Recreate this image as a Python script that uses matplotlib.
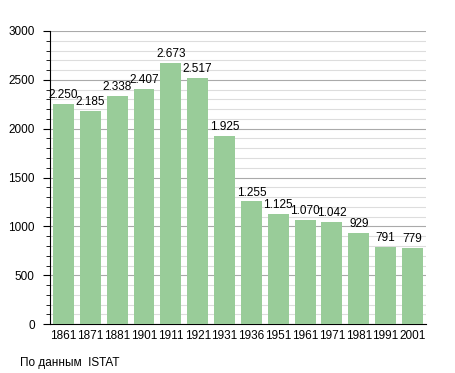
import numpy as np
import matplotlib.pyplot as plt
from matplotlib.ticker import MultipleLocator

years = ['1861', '1871', '1881', '1901', '1911', '1921', '1931',
         '1936', '1951', '1961', '1971', '1981', '1991', '2001']
population = [2250, 2185, 2338, 2407, 2673, 2517, 1925,
              1255, 1125, 1070, 1042, 929, 791, 779]
value_labels = ['2.250', '2.185', '2.338', '2.407', '2.673', '2.517', '1.925',
                '1.255', '1.125', '1.070', '1.042', '929', '791', '779']

plt.rcParams.update({
    'font.family': ['Liberation Sans', 'DejaVu Sans'],
    'font.size': 8.5,
})

fig = plt.figure(figsize=(4.55, 3.73), dpi=100)
ax = fig.add_axes([0.110, 0.131, 0.826, 0.786])

x = np.arange(len(years))
ax.bar(x, population, width=0.78, color='#99cc99', zorder=3)
for xi, v, lab in zip(x, population, value_labels):
    ax.text(xi, v + 30, lab, ha='center', va='bottom', fontsize=8.5, zorder=4)

ax.set_xlim(-0.5, len(years) - 0.5)
ax.set_ylim(0, 3000)
ax.set_xticks(x)
ax.set_xticklabels(years)
ax.yaxis.set_major_locator(MultipleLocator(500))
ax.yaxis.set_minor_locator(MultipleLocator(100))
ax.grid(axis='y', which='major', color='#aaaaaa', linewidth=0.8, zorder=0)
ax.grid(axis='y', which='minor', color='#dddddd', linewidth=0.8, zorder=0)
ax.tick_params(axis='x', length=0, pad=4)
ax.tick_params(axis='y', which='major', length=5, pad=6)
ax.tick_params(axis='y', which='minor', length=3)
for side in ['top', 'right']:
    ax.spines[side].set_visible(False)

fig.text(0.044, 0.02, 'По данным  ISTAT', fontsize=8.5)

fig.savefig('out.png', dpi=100)
